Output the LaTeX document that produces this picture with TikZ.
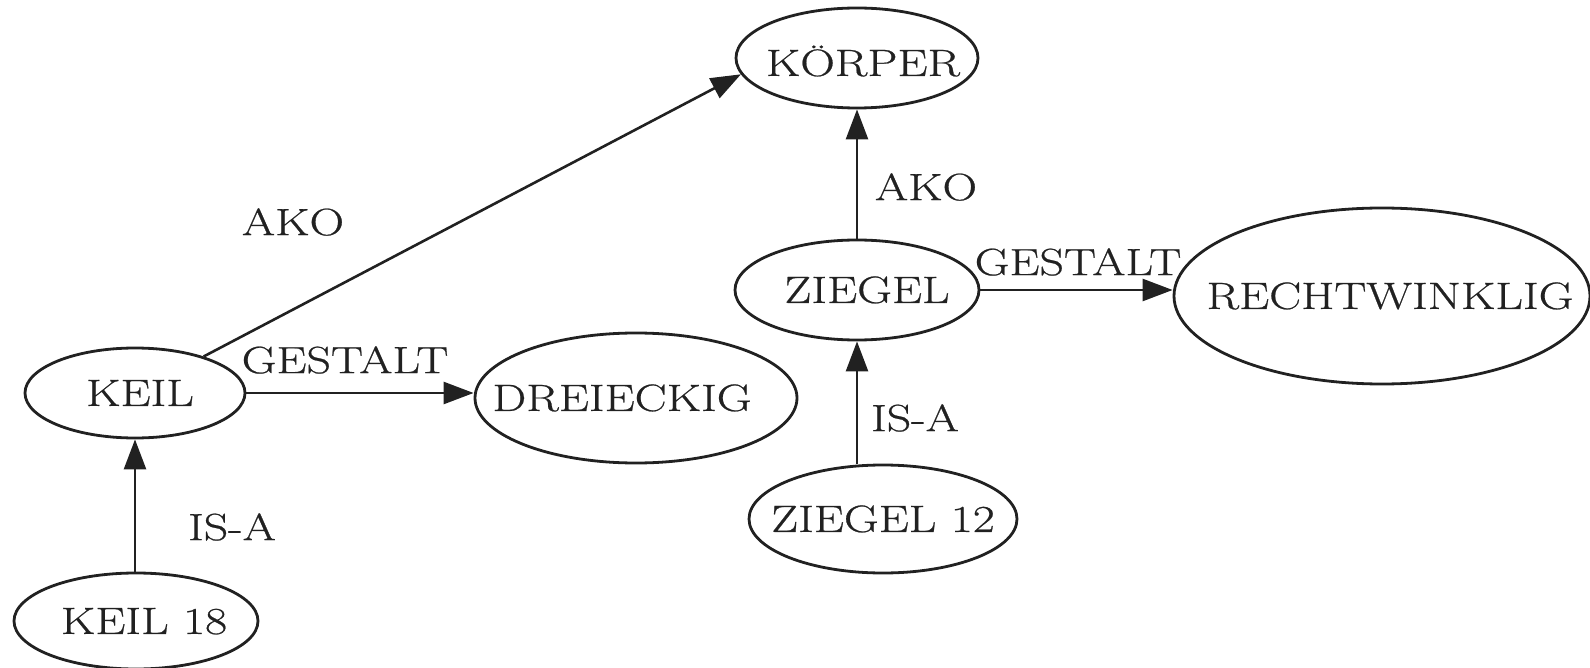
\documentclass[tikz,border=0pt]{standalone}
\usepackage{fontspec}
\setmainfont{Latin Modern Roman}[FakeStretch=1.26,FakeBold=0.6]
\usetikzlibrary{shapes.geometric,arrows.meta}
\definecolor{ink}{gray}{0.13}
% text that does not widen its ellipse: zero-size box, centred on the caps,
% optionally moved right by the given amount
\newcommand\conceptname[2][0pt]{%
  \smash{\raisebox{-0.34em}{\makebox[0pt]{\hspace*{#1}\hspace*{#1}#2}}}}
\begin{document}
\begin{tikzpicture}[x=1pt,y=-1pt,
  every node/.style={font=\fontsize{38}{44}\selectfont, text=ink},
  concept/.style={ellipse, draw=ink, line width=2.8pt, inner sep=0pt},
  rel/.style={draw=ink, line width=2.6pt,
    -{Triangle[length=30pt,width=22pt]}},
  lab/.style={inner sep=0pt}]
  \useasboundingbox (0,0) rectangle (1590,668);

  % concepts
  \node[concept, minimum width=242pt, minimum height=100pt] (koerper)  at (857,58)   {\conceptname[6pt]{\raisebox{-5pt}{KÖRPER}}};
  \node[concept, minimum width=220pt, minimum height=90pt]  (keil)     at (135,393)  {\conceptname[5pt]{KEIL}};
  \node[concept, minimum width=244pt, minimum height=96pt]  (keil18)   at (136,621)  {\conceptname[8pt]{KEIL 18}};
  \node[concept, minimum width=322pt, minimum height=130pt] (drei)     at (636,398)  {\conceptname[-14pt]{DREIECKIG}};
  \node[concept, minimum width=244pt, minimum height=100pt] (ziegel)   at (857,290)  {\conceptname[10pt]{ZIEGEL}};
  \node[concept, minimum width=268pt, minimum height=108pt] (ziegel12) at (883,519)  {\conceptname{ZIEGEL 12}};
  \node[concept, minimum width=416pt, minimum height=176pt] (recht)    at (1382,296) {\conceptname[8pt]{RECHTWINKLIG}};

  % relations
  \draw[rel] (keil.28) -- (koerper.188);
  \draw[rel] (keil.east) -- (keil.east -| drei.west);
  \draw[rel] (keil18.north -| keil.south) -- (keil.south);
  \draw[rel] (ziegel.north) -- (ziegel.north |- koerper.south);
  \draw[rel] (ziegel.east) -- (ziegel.east -| recht.west);
  \draw[rel] (ziegel12.north -| ziegel.south) -- (ziegel.south);

  % relation labels
  \node[lab] (akoL)    at (293,222)  {AKO};
  \node[lab] (gestL)   at (345,360)  {GESTALT};
  \node[lab] (isaL)    at (232,527)  {IS-A};
  \node[lab] (akoR)    at (926,187)  {AKO};
  \node[lab] (gestR)   at (1078,262) {GESTALT};
  \node[lab] (isaR)    at (915,418)  {IS-A};
\end{tikzpicture}
\end{document}
